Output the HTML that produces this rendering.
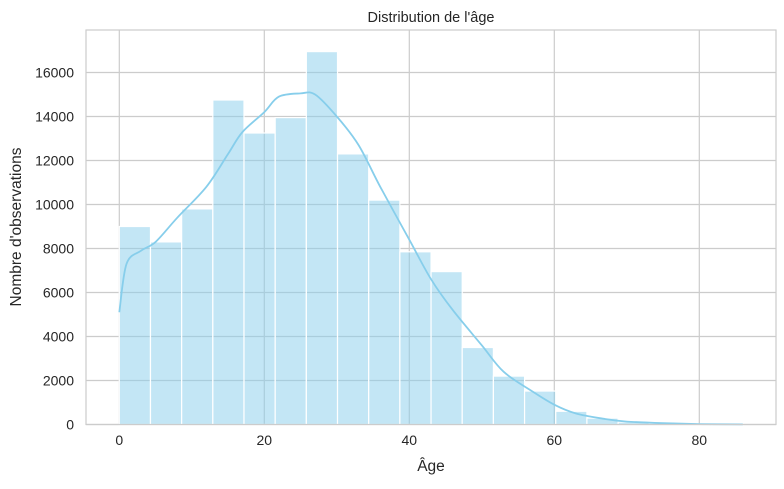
<!DOCTYPE html>
<html><head><meta charset="utf-8"><style>
body{margin:0;background:#fff;font-family:"Liberation Sans","DejaVu Sans",sans-serif;}
svg text{font-family:"Liberation Sans","DejaVu Sans",sans-serif;fill:#262626;}
</style></head><body>
<svg id="chart" width="784" height="484" xmlns="http://www.w3.org/2000/svg">
<rect width="784" height="484" fill="#fff"/>
<g id="grid"></g>
<g id="bars"></g>
<path id="kde" fill="none" stroke="#87CEEB" stroke-width="1.8"/>
<rect x="86" y="30" width="690" height="394.5" fill="none" stroke="#cccccc" stroke-width="1.2"/>
<g id="ticks"></g>
<text x="431" y="22" text-anchor="middle" font-size="14.5">Distribution de l'âge</text>
<text x="431" y="471" text-anchor="middle" font-size="15.5">Âge</text>
<text transform="translate(21,227) rotate(-90)" text-anchor="middle" font-size="15.5">Nombre d'observations</text>
</svg>
<script>
const binStart = 0;
const binWidth = 4.3;
const counts = [9000, 8300, 9800, 14750, 13250, 13950, 16950, 12300, 10200, 7850, 6950, 3500, 2200, 1520, 600, 290, 110, 50, 25, 10];
const kdeAges = [0,1,3,5,8,12,15,17,20,22,25,27,30,33,36,40,43,46,50,53,57,60,63,67,70,75,80,86];
const kdeValues = [5100,7300,7900,8300,9400,10800,12300,13300,14200,14900,15050,15000,14000,12700,10800,8400,6600,5200,3600,2400,1500,900,500,250,130,60,20,5];
const xTicks = [0,20,40,60,80];
const yTicks = [0,2000,4000,6000,8000,10000,12000,14000,16000];

const NS = "http://www.w3.org/2000/svg";
const x = v => 119.3 + v * 7.25;
const y = v => 424.5 - v * 0.022;

const grid = document.getElementById('grid');
const ticks = document.getElementById('ticks');
xTicks.forEach(t => {
  const l = document.createElementNS(NS, 'line');
  
  
  l.setAttribute('x1', x(t)); l.setAttribute('x2', x(t));
  l.setAttribute('y1', 30); l.setAttribute('y2', 424.5);
  l.setAttribute('stroke', '#cccccc'); l.setAttribute('stroke-width', '1.2');
  grid.appendChild(l);
  const tx = document.createElementNS(NS, 'text');
  
  
  tx.setAttribute('x', x(t)); tx.setAttribute('y', 445);
  tx.setAttribute('text-anchor', 'middle'); tx.setAttribute('font-size', '14');
  tx.textContent = t;
  ticks.appendChild(tx);
});
yTicks.forEach(t => {
  const l = document.createElementNS(NS, 'line');
  
  
  l.setAttribute('x1', 86); l.setAttribute('x2', 776);
  l.setAttribute('y1', y(t)); l.setAttribute('y2', y(t));
  l.setAttribute('stroke', '#cccccc'); l.setAttribute('stroke-width', '1.2');
  grid.appendChild(l);
  const tx = document.createElementNS(NS, 'text');
  
  
  tx.setAttribute('x', 74); tx.setAttribute('y', y(t) + 5);
  tx.setAttribute('text-anchor', 'end'); tx.setAttribute('font-size', '14');
  tx.textContent = t;
  ticks.appendChild(tx);
});
const bars = document.getElementById('bars');
counts.forEach((c, i) => {
  const x0 = x(binStart + i * binWidth), x1 = x(binStart + (i + 1) * binWidth);
  const r = document.createElementNS(NS, 'rect');
  
  
  r.setAttribute('x', x0); r.setAttribute('width', x1 - x0);
  r.setAttribute('y', y(c)); r.setAttribute('height', y(0) - y(c));
  r.setAttribute('fill', 'rgba(135,206,235,0.5)');
  r.setAttribute('stroke', '#fff'); r.setAttribute('stroke-width', '1.2');
  bars.appendChild(r);
});
const pts = kdeAges.map((a, i) => [x(a), y(kdeValues[i])]);
let d = 'M' + pts[0][0].toFixed(1) + ',' + pts[0][1].toFixed(1);
for (let i = 0; i < pts.length - 1; i++) {
  const p0 = pts[Math.max(0, i - 1)], p1 = pts[i], p2 = pts[i + 1], p3 = pts[Math.min(pts.length - 1, i + 2)];
  const c1 = [p1[0] + (p2[0] - p0[0]) / 6, p1[1] + (p2[1] - p0[1]) / 6];
  const c2 = [p2[0] - (p3[0] - p1[0]) / 6, p2[1] - (p3[1] - p1[1]) / 6];
  d += 'C' + c1.map(v => v.toFixed(1)).join(',') + ' ' + c2.map(v => v.toFixed(1)).join(',') + ' ' + p2.map(v => v.toFixed(1)).join(',');
}
document.getElementById('kde').setAttribute('d', d);
</script>
</body></html>
